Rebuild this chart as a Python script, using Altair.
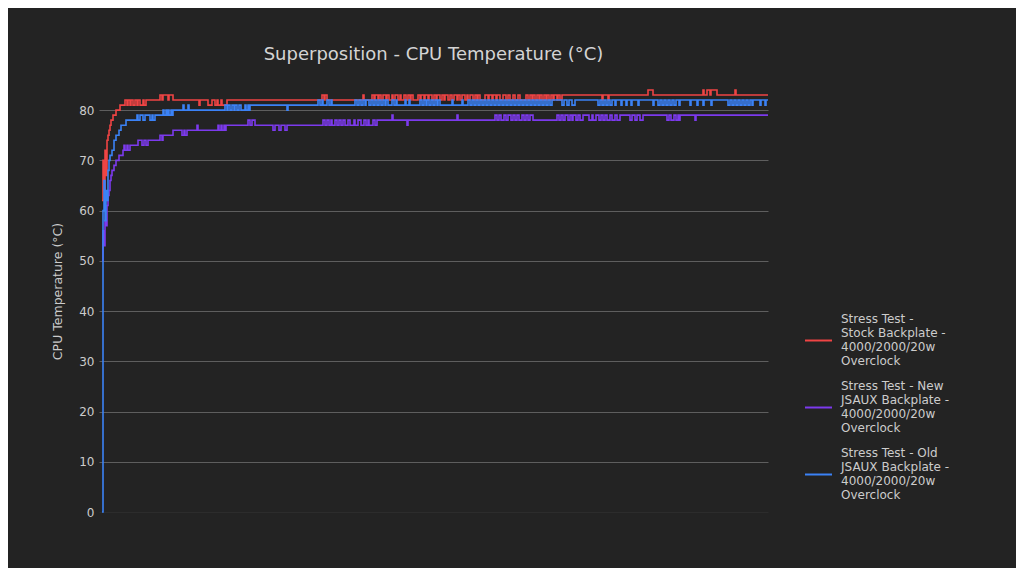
import altair as alt
import pandas as pd

# ---- series names (legend labels, "|" marks a line break) ----
names = [
    "Stress Test -|Stock Backplate -|4000/2000/20w|Overclock",
    "Stress Test - New|JSAUX Backplate -|4000/2000/20w|Overclock",
    "Stress Test - Old|JSAUX Backplate -|4000/2000/20w|Overclock",
]
colors = ["#ef4444", "#7c3aed", "#3b82f6"]

# ---- change points (sample, °C), drawn as step lines ----
red_pts = [
    (0, 62), (1, 70), (2, 64), (3, 72), (4, 67), (5, 74), (6, 75), (7, 76), (8, 77), (9, 78),
    (11, 79), (14, 80), (18, 81), (23, 82),
    (25, 81), (26, 82), (28, 81), (29, 82), (31, 81), (33, 82), (35, 81), (36, 82), (38, 81),
    (41, 82), (42, 81), (44, 82),
    (58, 83), (60, 82), (61, 83), (66, 82), (67, 83), (71, 82),
    (97, 81), (98, 82), (106, 81), (110, 82), (113, 81), (115, 82), (116, 81), (119, 82),
    (120, 81), (125, 82),
    (220, 83), (222, 82), (223, 83), (225, 82), (261, 83), (262, 82),
    (270, 83), (272, 82), (273, 83), (276, 82), (277, 83), (279, 82), (281, 83), (284, 82),
    (285, 83), (287, 82), (290, 83), (291, 82), (293, 83), (296, 82), (298, 83), (299, 82),
    (302, 83), (304, 82), (306, 83), (308, 82), (309, 83), (311, 82),
    (316, 83), (318, 82), (319, 83), (322, 82), (323, 83), (326, 82), (327, 83), (330, 82),
    (332, 83), (334, 82), (335, 83), (338, 82), (340, 83), (342, 82), (343, 83), (346, 82),
    (348, 83), (350, 82), (352, 83), (355, 82), (356, 83), (358, 82), (360, 83), (363, 82),
    (365, 83), (366, 82), (368, 83), (371, 82), (373, 83), (375, 82), (376, 83), (378, 82),
    (383, 83), (386, 82), (387, 83), (390, 82), (391, 83), (394, 82), (395, 83), (398, 82),
    (401, 83), (404, 82), (406, 83), (408, 82), (411, 83), (413, 82), (416, 83), (418, 82),
    (424, 83), (426, 82), (428, 83), (430, 82), (431, 83), (433, 82), (435, 83), (437, 82),
    (438, 83), (440, 82), (442, 83), (444, 82), (445, 83), (447, 82), (449, 83), (451, 82),
    (452, 83), (455, 82), (456, 83), (458, 82), (460, 83),
    (500, 82), (501, 83), (506, 82), (507, 83), (546, 84), (551, 83), (601, 84), (602, 83),
    (605, 84), (608, 83), (609, 84), (615, 83), (633, 84), (634, 83), (666, 83),
]

purple_pts = [
    (0, 50), (1, 56), (2, 53), (3, 58), (4, 57), (5, 61), (6, 63), (7, 64), (8, 66), (9, 67),
    (10, 68), (12, 69), (14, 70), (17, 71), (21, 72), (22, 73), (23, 72), (25, 73), (26, 72),
    (28, 73), (36, 74), (40, 73), (42, 74), (44, 73), (46, 74), (58, 75), (60, 74), (61, 75),
    (71, 76), (80, 75), (82, 76), (83, 75), (85, 76), (95, 77), (96, 76),
    (116, 77), (117, 76), (119, 77), (120, 76), (122, 77), (123, 76), (124, 77),
    (146, 78), (148, 77), (150, 78), (153, 77),
    (171, 76), (173, 77), (177, 76), (179, 77), (183, 76), (185, 77),
    (221, 78), (223, 77), (225, 78), (227, 77), (229, 78), (230, 77), (233, 78), (235, 77),
    (237, 78), (239, 77), (241, 78), (243, 77), (246, 78), (248, 77), (252, 78), (253, 77),
    (256, 78), (259, 77), (262, 78), (264, 77), (266, 78), (267, 77), (271, 78), (273, 77),
    (275, 78),
    (290, 79), (291, 78), (305, 77), (306, 78), (355, 79), (356, 78),
    (393, 79), (395, 78), (397, 79), (399, 78), (402, 79), (404, 78), (406, 79), (409, 78),
    (411, 79), (413, 78), (415, 79), (417, 78), (420, 79), (422, 78), (424, 79), (426, 78),
    (428, 79), (431, 78),
    (455, 79), (457, 78), (459, 79), (461, 78), (463, 79), (466, 78), (468, 79), (470, 78),
    (471, 79), (474, 78), (476, 79), (478, 78), (481, 79),
    (487, 78), (490, 79), (491, 78), (494, 79), (497, 78), (499, 79), (501, 78), (503, 79),
    (505, 78), (508, 79), (510, 78), (513, 79), (515, 78), (518, 79),
    (528, 78), (530, 79), (533, 78), (535, 79), (538, 78), (541, 79),
    (565, 78), (567, 79), (569, 78), (572, 79), (574, 78), (576, 79), (577, 78), (578, 79),
    (593, 78), (594, 79), (666, 79),
]

blue_pts = [
    (0, 0), (1, 60), (2, 66), (3, 58), (4, 64), (5, 62), (6, 68), (7, 70), (8, 71), (10, 72),
    (12, 74), (14, 75), (17, 76), (19, 77), (24, 78), (35, 79),
    (36, 78), (38, 79), (41, 78), (43, 79), (48, 78), (50, 79), (51, 78), (53, 79),
    (61, 80), (62, 79), (64, 80), (65, 79), (66, 80), (67, 79), (69, 80), (70, 79), (71, 80),
    (81, 81), (82, 80), (86, 81), (87, 80),
    (123, 81), (125, 80), (126, 81), (128, 80), (130, 81), (132, 80), (133, 81), (135, 80),
    (137, 81), (139, 80), (143, 81), (144, 80), (146, 81), (147, 80), (148, 81),
    (185, 80), (186, 81),
    (216, 82), (218, 81), (220, 82), (221, 81), (225, 82), (227, 81), (229, 82), (230, 81),
    (253, 82), (255, 81), (257, 82), (259, 81), (261, 82), (263, 81), (264, 82), (267, 81),
    (269, 82), (271, 81), (273, 82), (275, 81), (277, 82), (279, 81), (281, 82), (283, 81),
    (284, 82), (286, 81),
    (290, 82), (292, 81), (294, 82), (295, 81), (303, 82), (304, 81), (307, 82), (308, 81),
    (318, 82), (320, 81), (322, 82), (324, 81), (325, 82), (327, 81), (329, 82), (331, 81),
    (333, 82), (335, 81), (336, 82), (338, 81), (350, 82), (351, 81), (360, 82), (361, 81),
    (366, 82), (368, 81), (370, 82), (372, 81), (374, 82), (376, 81), (378, 82), (380, 81),
    (382, 82), (384, 81), (386, 82), (388, 81), (390, 82), (392, 81), (394, 82), (396, 81),
    (398, 82), (400, 81), (402, 82), (404, 81), (406, 82), (408, 81), (410, 82), (412, 81),
    (414, 82), (416, 81), (418, 82), (420, 81), (422, 82), (424, 81), (426, 82), (428, 81),
    (430, 82), (432, 81), (434, 82), (436, 81), (438, 82), (440, 81), (442, 82), (444, 81),
    (446, 82), (448, 81), (450, 82),
    (460, 81), (462, 82), (465, 81), (467, 82), (470, 81), (473, 82),
    (496, 81), (498, 82), (500, 81), (502, 82), (504, 81), (506, 82), (508, 81), (510, 82),
    (513, 81), (514, 82), (519, 81), (520, 82), (524, 81), (525, 82), (529, 81), (530, 82),
    (536, 81), (537, 82),
    (551, 81), (552, 82), (556, 81), (558, 82), (560, 81), (562, 82), (564, 81), (566, 82),
    (568, 81), (570, 82), (572, 81), (574, 82), (577, 81), (578, 82),
    (588, 81), (589, 82), (595, 81), (596, 82), (601, 81), (602, 82), (609, 81), (610, 82),
    (626, 81), (628, 82), (630, 81), (632, 82), (634, 81), (636, 82), (638, 81), (640, 82),
    (642, 81), (644, 82), (646, 81), (648, 82), (650, 81), (651, 82),
    (658, 81), (659, 82), (663, 81), (664, 82), (666, 82),
]

rows = []
for name, pts in zip(names, [red_pts, purple_pts, blue_pts]):
    for t, v in pts:
        rows.append({"t": t, "temp": v, "series": name})
df = pd.DataFrame(rows)

FONT = "DejaVu Sans"

color_scale = alt.Scale(domain=names, range=colors)

def layer_for(name):
    return (
        alt.Chart(df)
        .transform_filter(alt.datum.series == name)
        .mark_line(interpolate="step-after", strokeWidth=1.6)
        .encode(
            x=alt.X("t:Q", scale=alt.Scale(domain=[-3, 666], nice=False, zero=False), axis=None),
            y=alt.Y(
                "temp:Q",
                scale=alt.Scale(domain=[0, 85], nice=False),
                axis=alt.Axis(
                    values=[0, 10, 20, 30, 40, 50, 60, 70, 80],
                    title="CPU Temperature (°C)",
                    grid=True,
                    gridColor={
                        "condition": {"test": "datum.value === 0", "value": "#2c2c2c"},
                        "value": "#5e5e5e",
                    },
                    ticks=False,
                    domain=False,
                    labelPadding=5,
                    titlePadding=14,
                    titleY=206,
                ),
            ),
            color=alt.Color(
                "series:N",
                scale=color_scale,
                legend=alt.Legend(
                    title=None,
                    orient="none",
                    legendX=705,
                    legendY=219,
                    symbolType="M-1,1.63H1",
                    symbolSize=729,
                    symbolStrokeWidth=2,
                    labelExpr="split(datum.label, '|')",
                    labelFont=FONT,
                    labelFontSize=12,
                    labelColor="#cccccc",
                    labelOffset=8,
                    labelLimit=300,
                    rowPadding=4,
                ),
            ),
        )
    )

chart = (
    alt.layer(*[layer_for(n) for n in names])
    .properties(
        width=669,
        height=427,
        title=alt.TitleParams(
            "Superposition - CPU Temperature (°C)",
            fontSize=18,
            font=FONT,
            fontWeight="normal",
            color="#d4d4d4",
            anchor="middle",
            offset=21,
        ),
        background="#232323",
        autosize=alt.AutoSizeParams(type="none"),
        padding={"left": 91, "top": 77, "right": 248, "bottom": 56},
    )
    .configure_view(stroke=None)
    .configure_axis(
        labelFont=FONT,
        labelFontSize=12,
        labelColor="#cccccc",
        titleFont=FONT,
        titleFontSize=12.5,
        titleFontWeight="normal",
        titleColor="#cccccc",
    )
)

chart.save("out.html", embed_options={"renderer": "svg", "actions": False})
